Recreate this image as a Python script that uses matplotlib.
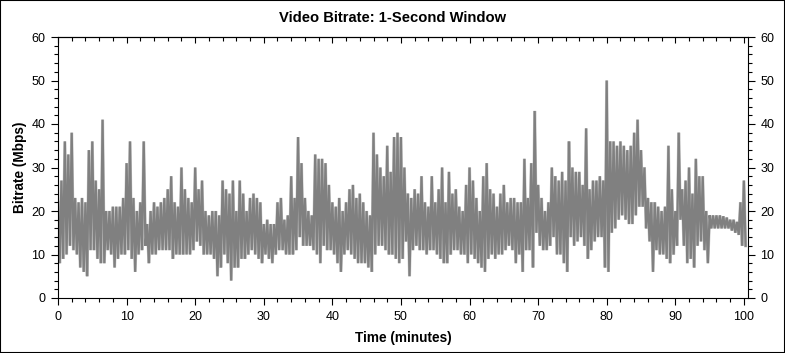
import numpy as np
import matplotlib
matplotlib.use("Agg")
import matplotlib.pyplot as plt
from matplotlib.ticker import MultipleLocator
from matplotlib.patches import Rectangle

plt.rcParams.update({
    "font.family": ["Liberation Sans", "DejaVu Sans"],
    "font.size": 9,
    "axes.linewidth": 0.8,
})

# half-minute bins: start time (minutes), peak and trough bitrate (Mbps)
minutes = np.arange(0, 100.5, 0.5)
peaks = [
    22, 27, 36, 33, 38, 23, 22, 23, 22, 34, 36, 27, 25, 41, 20, 20, 21, 21, 21, 23,
    31, 36, 23, 20, 22, 36, 17, 20, 22, 21, 22, 23, 25, 28, 22, 21, 30, 25, 23, 22,
    30, 25, 27, 20, 19, 20, 20, 19, 27, 25, 24, 27, 20, 27, 24, 20, 23, 24, 23, 22,
    17, 18, 17, 17, 22, 23, 18, 19, 28, 23, 37, 31, 23, 20, 19, 33, 32, 32, 31, 26,
    22, 21, 23, 20, 22, 25, 26, 23, 24, 22, 20, 19, 38, 33, 30, 28, 35, 29, 37, 38,
    37, 30, 24, 23, 25, 24, 28, 22, 21, 28, 22, 25, 30, 22, 29, 24, 25, 21, 20, 26,
    30, 27, 23, 20, 28, 31, 25, 24, 21, 24, 26, 22, 23, 23, 22, 22, 32, 23, 31, 43,
    26, 23, 20, 22, 30, 28, 27, 29, 27, 36, 30, 29, 29, 26, 39, 25, 27, 27, 28, 27,
    50, 36, 36, 35, 36, 35, 34, 35, 38, 41, 34, 30, 23, 22, 22, 21, 20, 21, 35, 25,
    20, 38, 25, 27, 30, 24, 32, 28, 28, 20, 19, 19, 19, 19, 18.8, 18.5, 18, 18, 17.5, 22,
    27,
]
troughs = [
    8, 9, 10, 12, 11, 10, 7, 6, 5, 11, 11, 9, 8, 8, 11, 10, 7, 9, 10, 10,
    11, 9, 6, 10, 11, 12, 8, 10, 10, 11, 11, 11, 11, 9, 10, 10, 10, 10, 10, 11,
    13, 12, 10, 10, 10, 9, 5, 7, 10, 8, 4, 7, 7, 9, 9, 10, 11, 10, 9, 8,
    10, 9, 8, 10, 11, 11, 10, 10, 10, 11, 14, 12, 12, 12, 11, 10, 8, 12, 11, 11,
    10, 8, 6, 10, 11, 10, 9, 8, 8, 8, 7, 6, 10, 12, 12, 11, 10, 10, 9, 8,
    9, 13, 5, 11, 12, 11, 11, 10, 11, 11, 10, 9, 8, 8, 10, 11, 11, 10, 10, 8,
    10, 9, 8, 7, 6, 9, 10, 9, 10, 10, 11, 12, 11, 8, 10, 6, 11, 11, 7, 15,
    12, 11, 11, 12, 14, 10, 10, 8, 6, 14, 12, 13, 14, 12, 9, 11, 13, 14, 14, 7,
    6, 15, 16, 18, 19, 18, 17, 17, 19, 21, 21, 16, 13, 6, 11, 10, 10, 9, 8, 10,
    12, 18, 12, 8, 9, 7, 12, 13, 11, 8, 16, 16, 16, 16, 16, 16, 15.5, 15, 14.5, 12,
    12,
]

# interleave peaks and troughs into one jagged trace
t = np.column_stack([minutes, minutes + 0.25]).ravel()
rate = np.column_stack([peaks, troughs]).ravel()

fig = plt.figure(figsize=(7.85, 3.53), dpi=100)
ax = fig.add_axes([58 / 785, 55 / 353, 690 / 785, 261 / 353])

ax.plot(t, rate, color="#c8c8c8", lw=2.2, solid_joinstyle="miter")
ax.plot(t, rate, color="#808080", lw=1.6, solid_joinstyle="bevel")

ax.set_xlim(0, 100.6)
ax.set_ylim(0, 60)
ax.xaxis.set_major_locator(MultipleLocator(10))
ax.xaxis.set_minor_locator(MultipleLocator(2))
ax.yaxis.set_major_locator(MultipleLocator(10))
ax.yaxis.set_minor_locator(MultipleLocator(2))
ax.tick_params(which="both", direction="out", right=True, labelright=True, pad=4)
ax.tick_params(which="major", length=5, width=0.8)
ax.tick_params(which="minor", length=3, width=0.8)

top = ax.secondary_xaxis("top")
top.xaxis.set_major_locator(MultipleLocator(10))
top.xaxis.set_minor_locator(MultipleLocator(2))
top.tick_params(which="both", direction="in", labeltop=False)
top.tick_params(which="major", length=4, width=0.8)
top.tick_params(which="minor", length=3, width=0.8)

ax.set_xlabel("Time (minutes)", fontweight="bold", fontsize=9.8, labelpad=6)
ax.set_ylabel("Bitrate (Mbps)", fontweight="bold", fontsize=9.8, labelpad=3)
fig.text(0.5, 1 - 18 / 353, "Video Bitrate: 1-Second Window",
         ha="center", va="center", fontweight="bold", fontsize=10.6)

fig.add_artist(Rectangle((0, 0), 1, 1, transform=fig.transFigure,
                         fill=False, ec="black", lw=1.5))

fig.savefig("out.png", dpi=100)
